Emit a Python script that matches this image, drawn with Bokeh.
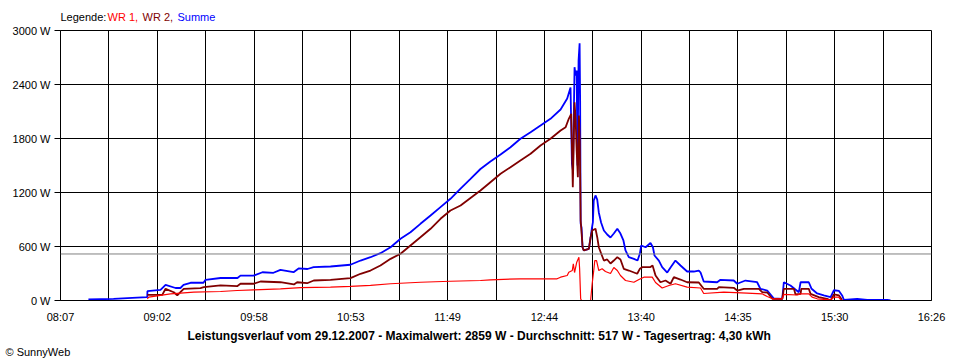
from bokeh.plotting import figure
from bokeh.layouts import column
from bokeh.models import Range1d, FixedTicker, CustomJSTickFormatter, Label, Span, Title
from bokeh.embed import file_html
from bokeh.resources import INLINE

# ---- data (time = minutes since midnight, power in W) ----
x_tick_labels = ["08:07", "09:02", "09:58", "10:53", "11:49", "12:44",
                 "13:40", "14:35", "15:30", "16:26"]
y_ticks = [0, 600, 1200, 1800, 2400, 3000]
average_w = 517

t_summe = [503.0, 517.4, 528.1, 536.7, 536.8, 544.3, 547.2, 552.9, 555.7, 557.5,
           561.5, 568.9, 570.1, 578.7, 588.4, 590.1, 597.6, 602.7, 609.0, 613.0,
           620.5, 623.4, 628.5, 632.0, 641.7, 653.1, 658.9, 664.6, 670.3, 676.1,
           681.8, 687.5, 693.2, 699.0, 704.7, 710.4, 716.2, 721.9, 727.6, 733.3,
           739.1, 744.8, 750.5, 756.3, 762.0, 767.7, 773.5, 777.3, 779.2, 780.0,
           780.6, 781.5, 782.1, 782.7, 783.2, 783.8, 784.4, 784.7, 785.0, 785.5,
           786.1, 786.8, 789.7, 790.7, 791.4, 792.0, 792.5, 793.5, 794.5, 795.4,
           796.7, 798.3, 800.2, 802.1, 804.0, 806.0, 807.8, 809.5, 810.7, 812.6,
           815.5, 817.6, 818.9, 819.7, 822.2, 825.0, 826.4, 827.3, 829.8, 831.7,
           834.6, 836.5, 839.3, 842.2, 846.0, 849.8, 852.7, 853.7, 855.5, 863.2,
           865.1, 872.7, 874.7, 879.4, 886.1, 888.0, 891.9, 895.7, 900.5, 901.4,
           905.2, 910.0, 911.0, 915.7, 917.3, 920.5, 924.3, 928.2, 930.1, 933.0,
           934.8, 935.8, 943.4, 949.2, 960.6, 962.5]
w_summe = [11, 19, 30, 37, 103, 119, 174, 139, 139, 174,
           197, 197, 230, 250, 250, 276, 276, 314, 308, 341,
           314, 356, 350, 370, 378, 397, 444, 481, 526, 592,
           686, 759, 852, 944, 1037, 1130, 1244, 1352, 1461, 1544,
           1622, 1703, 1797, 1870, 1944, 2019, 2122, 2244, 2367, 1522,
           1444, 2592, 2500, 2556, 1500, 2667, 2859, 2222, 856, 811,
           589, 556, 574, 700, 800, 867, 1111, 1167, 1122, 978,
           867, 778, 733, 700, 744, 797, 744, 667, 556, 481,
           463, 444, 519, 611, 592, 639, 592, 500, 444, 370,
           311, 367, 444, 389, 322, 322, 333, 311, 211, 203,
           230, 222, 186, 222, 203, 130, 111, 22, 19, 203,
           167, 92, 203, 203, 130, 78, 56, 37, 114, 106,
           56, 8, 19, 8, 8, 0]

t_wr2 = [536.7, 545.3, 547.2, 551.9, 553.9, 555.7, 557.6, 567.2, 569.1, 578.7,
         588.2, 590.1, 597.7, 601.6, 613.0, 620.7, 622.6, 628.3, 632.1, 641.7,
         653.1, 658.9, 664.6, 670.3, 676.1, 681.8, 687.5, 693.2, 699.0, 704.7,
         710.4, 716.2, 721.9, 727.6, 733.3, 739.1, 744.8, 750.5, 756.3, 762.0,
         767.7, 773.5, 776.4, 778.2, 779.6, 780.5, 781.5, 782.1, 782.7, 783.4,
         784.0, 784.5, 785.0, 785.3, 786.1, 786.8, 789.7, 790.7, 791.6, 793.5,
         794.5, 795.4, 797.3, 798.3, 800.2, 802.1, 804.0, 806.0, 807.8, 809.7,
         812.6, 817.4, 818.9, 820.3, 825.0, 826.2, 827.9, 830.7, 833.6, 836.5,
         838.4, 842.2, 846.0, 852.7, 855.5, 863.2, 864.2, 872.7, 874.7, 878.5,
         887.1, 889.0, 891.9, 894.8, 900.5, 901.4, 907.2, 908.1, 911.0, 911.4,
         915.7, 916.7, 921.4, 926.2, 928.2, 930.1, 933.0, 934.8]
w_wr2 = [63, 63, 130, 92, 56, 92, 130, 137, 148, 167,
         159, 186, 186, 211, 203, 178, 203, 192, 222, 230,
         248, 297, 333, 389, 463, 519, 611, 703, 797, 908,
         1000, 1056, 1139, 1222, 1314, 1408, 1481, 1556, 1630, 1722,
         1797, 1889, 1926, 2019, 2074, 1259, 2203, 2019, 1667, 1370,
         2056, 1778, 889, 814, 589, 556, 574, 700, 778, 797,
         703, 592, 494, 444, 456, 411, 444, 481, 456, 352,
         333, 297, 352, 370, 372, 389, 278, 203, 222, 186,
         259, 233, 203, 200, 130, 130, 148, 141, 111, 130,
         130, 92, 89, 19, 19, 130, 130, 67, 74, 130,
         130, 74, 37, 19, 0, 67, 56, 6]

t_wr1 = [536.7, 537.6, 550.0, 563.4, 578.7, 588.2, 597.7, 613.0, 624.5, 641.7,
         653.1, 664.6, 676.1, 693.2, 710.4, 727.6, 733.3, 750.5, 771.5, 773.5,
         777.3, 778.2, 780.2, 780.8, 781.5, 782.7, 784.0, 784.4, 785.0, 785.5,
         790.7, 791.6, 792.5, 793.1, 794.1, 795.4, 797.3, 799.2, 802.1, 804.0,
         806.0, 807.8, 810.7, 815.5, 818.4, 821.2, 826.0, 827.9, 831.7, 835.6,
         839.3, 846.0, 853.7, 855.5, 867.0, 880.3, 889.0, 891.9, 894.9, 900.5,
         901.4, 909.1, 911.0, 915.7, 917.6, 920.5, 928.2, 930.1, 932.8, 934.0,
         934.8]
w_wr1 = [19, 37, 74, 92, 100, 111, 119, 130, 144, 148,
         156, 167, 186, 203, 214, 222, 230, 241, 241, 259,
         278, 314, 333, 408, 311, 422, 481, 356, 19, 0,
         0, 186, 333, 444, 444, 333, 352, 322, 300, 367,
         333, 278, 222, 203, 233, 259, 259, 200, 139, 167,
         186, 148, 139, 78, 92, 83, 74, 44, 19, 19,
         67, 61, 74, 74, 37, 19, 8, 37, 37, 8,
         0]

legend_parts = [("Legende:", "black"), ("WR 1,", "#FF0000"),
                ("WR 2,", "#800000"), ("Summe", "#0000FF")]
title_text = ("Leistungsverlauf vom 29.12.2007 - Maximalwert: 2859 W - "
              "Durchschnitt: 517 W - Tagesertrag: 4,30 kWh")
copyright_text = "\u00a9 SunnyWeb"

# ---- helpers ----
def to_min(s):
    h, m = s.split(":")
    return int(h) * 60 + int(m)

FONT = "Liberation Sans"
W_TOTAL = 960
BORDER_L, BORDER_R = 60, 29

# ---- top strip: legend (its frame gets aligned with the chart frame) ----
top = figure(width=W_TOTAL, height=23, x_range=Range1d(0, 1), y_range=Range1d(0, 1),
             output_backend="svg", toolbar_location=None,
             x_axis_location=None, y_axis_location=None)
top.min_border_left = BORDER_L
top.min_border_right = BORDER_R
top.min_border_top = 0
top.min_border_bottom = 0
top.grid.visible = False
top.outline_line_color = None
legend_dx = [0, 47, 82, 117]
for (txt, col), dx in zip(legend_parts, legend_dx):
    top.add_layout(Label(x=dx, y=6.5, x_units="screen", y_units="screen", text=txt,
                         text_font=FONT, text_font_size="11px", text_color=col,
                         text_align="left", text_baseline="middle"))

# ---- main chart ----
x_start = to_min(x_tick_labels[0])
x_end = to_min(x_tick_labels[-1])
n_grid = 2 * (len(x_tick_labels) - 1)
step = (x_end - x_start) / n_grid
grid_ticks = [x_start + i * step for i in range(n_grid + 1)]
label_ticks = grid_ticks[::2]

p = figure(frame_width=871, frame_height=270,
           x_range=Range1d(x_start, x_end), y_range=Range1d(y_ticks[0], y_ticks[-1]),
           output_backend="svg", toolbar_location=None)
p.min_border_left = BORDER_L
p.min_border_right = BORDER_R
p.min_border_top = 7
p.min_border_bottom = 60
p.background_fill_color = "white"
p.border_fill_color = "white"
p.outline_line_color = "black"
p.outline_line_alpha = 1.0
p.outline_line_width = 1

p.xaxis.ticker = FixedTicker(ticks=label_ticks)
p.xaxis.formatter = CustomJSTickFormatter(
    args=dict(labels=x_tick_labels, start=x_start, step=2 * step),
    code="return labels[Math.round((tick - start) / step)];")
p.xaxis.major_tick_out = 0
p.xaxis.major_tick_in = 0
p.xaxis.minor_tick_out = 0
p.xaxis.minor_tick_in = 0
p.xaxis.major_label_standoff = 10

p.yaxis.ticker = FixedTicker(ticks=y_ticks)
p.yaxis.formatter = CustomJSTickFormatter(code="return Math.round(tick) + ' W';")
p.yaxis.major_tick_out = 6
p.yaxis.major_tick_in = 0
p.yaxis.minor_tick_out = 0
p.yaxis.minor_tick_in = 0
p.yaxis.major_label_standoff = 4

for ax in (p.xaxis, p.yaxis):
    ax.axis_line_color = "black"
    ax.major_tick_line_color = "black"
    ax.major_label_text_font = FONT
    ax.major_label_text_font_size = "11px"
    ax.major_label_text_color = "black"

p.xgrid.ticker = FixedTicker(ticks=grid_ticks)
p.ygrid.ticker = FixedTicker(ticks=y_ticks)
for g in (p.xgrid, p.ygrid):
    g.grid_line_color = "black"
    g.grid_line_alpha = 1.0
    g.grid_line_width = 1

p.add_layout(Span(location=average_w, dimension="width",
                  line_color="#808080", line_width=1))

p.line(t_summe, w_summe, line_color="#0000FF", line_width=1.8)
p.line(t_wr2, w_wr2, line_color="#800000", line_width=1.8)
p.line(t_wr1, w_wr1, line_color="#FF0000", line_width=1.2)

# ---- caption and copyright below the x axis ----
p.add_layout(Title(text=title_text, align="left", offset=127, standoff=3,
                   vertical_align="bottom", text_font=FONT, text_font_size="12px",
                   text_font_style="bold", text_color="black"), "below")
p.add_layout(Title(text=copyright_text, align="left", offset=-55, standoff=0,
                   vertical_align="middle", text_font=FONT, text_font_size="11px",
                   text_font_style="normal", text_color="black"), "below")

layout = column(top, p, spacing=0)
open("out.html", "w").write(file_html(layout, INLINE))
